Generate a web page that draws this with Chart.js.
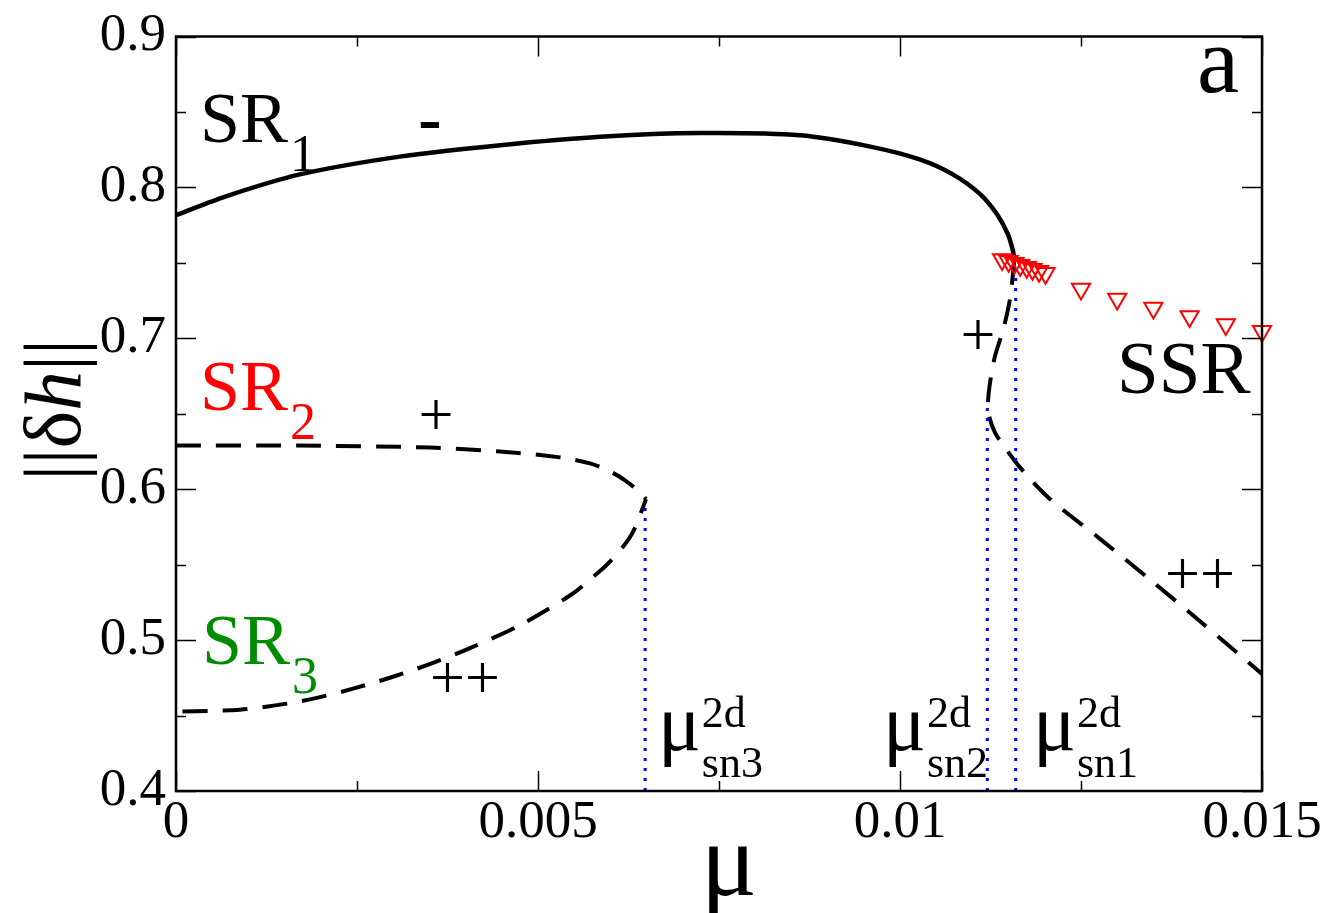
<!DOCTYPE html>
<html>
<head>
<meta charset="utf-8">
<title>Bifurcation diagram</title>
<script src="https://cdn.jsdelivr.net/npm/chart.js@4.4.0/dist/chart.umd.min.js"></script>
<style>
  html, body { margin: 0; padding: 0; background: #fff; }
  canvas { display: block; }
</style>
</head>
<body>
<canvas id="bifChart" width="1341" height="913"></canvas>
<script>
// --- DATA ---
// SR1, stable upper branch (solid)
const muSR1 = [0, 0.00069, 0.00171, 0.00309, 0.00448, 0.00586, 0.00724, 0.00862, 0.00959, 0.01028, 0.01073, 0.01111, 0.01134, 0.01149, 0.01156, 0.01158];
const hSR1  = [0.7816, 0.7941, 0.8086, 0.8204, 0.828, 0.8336, 0.836, 0.8345, 0.827, 0.8184, 0.8086, 0.7954, 0.7822, 0.769, 0.758, 0.752];

// unstable continuation of SR1 past the folds sn1 / sn2 (dashed)
const muSR1u = [0.01158, 0.01152, 0.011423, 0.011312, 0.011243, 0.011215, 0.011229, 0.011312, 0.01145, 0.011657, 0.012044, 0.012762, 0.013453, 0.014144, 0.015];
const hSR1u  = [0.752, 0.7263, 0.7053, 0.6882, 0.6704, 0.6572, 0.6487, 0.6375, 0.6276, 0.6145, 0.5947, 0.5671, 0.5401, 0.5125, 0.4776];

// SR2 (upper dashed, left) up to the fold sn3
const muSR2 = [0, 0.001713, 0.003508, 0.004475, 0.005304, 0.005718, 0.005994, 0.006202, 0.006409, 0.006492];
const hSR2  = [0.6289, 0.6289, 0.6276, 0.625, 0.6211, 0.6171, 0.6118, 0.6059, 0.598, 0.5934];

// SR3 (lower dashed, left) from the fold sn3 back to mu = 0
const muSR3 = [0.006492, 0.006436, 0.006312, 0.006174, 0.005953, 0.005815, 0.005483, 0.004751, 0.004061, 0.00355, 0.002997, 0.002445, 0.001989, 0.001533, 0.000884, 0];
const hSR3  = [0.5934, 0.5862, 0.5717, 0.5618, 0.55, 0.5441, 0.5309, 0.5099, 0.4947, 0.4849, 0.4757, 0.4678, 0.4622, 0.4579, 0.4539, 0.4526];

// SSR (red triangles)
const muSSR = [0.01141, 0.0115, 0.01158, 0.01166, 0.01175, 0.01183, 0.01192, 0.01201, 0.0125, 0.013, 0.0135, 0.014, 0.0145, 0.015];
const hSSR  = [0.7523, 0.751, 0.7497, 0.7484, 0.7471, 0.7458, 0.7444, 0.7431, 0.7326, 0.726, 0.7201, 0.7145, 0.7092, 0.7046];

// saddle-node points (blue dotted markers)
const foldNames = ['sn3', 'sn2', 'sn1'];
const muFold = [0.00648, 0.011206, 0.011598];
const hFold  = [0.5895, 0.659, 0.757];

// axis ranges / ticks
const xRange = [0, 0.015];
const yRange = [0.4, 0.9];
const xMinorStep = 0.0025, xMajorStep = 0.005;
const yMinorStep = 0.05, yMajorStep = 0.1;

const SERIF = '"Liberation Serif", "Times New Roman", serif';

function toPts(xs, ys) {
    return xs.map((x, i) => ({ x: x, y: ys[i] }));
}
function isMajor(v, step) {
    return Math.abs(v / step - Math.round(v / step)) < 1e-6;
}

// text notes placed in data coordinates
const notes = [
    { text: 'SR', sub: '1', x: 0.000331, y: 0.8303, color: '#000000' },
    { text: 'SR', sub: '2', x: 0.000331, y: 0.6526, color: '#ff0000' },
    { text: 'SR', sub: '3', x: 0.000359, y: 0.4842, color: '#008c00' },
    { text: 'SSR', x: 0.012997, y: 0.6638, color: '#000000', size: 75 },
    { text: 'a', x: 0.014102, y: 0.8632, color: '#000000', size: 95 },
    { text: '-', x: 0.003508, y: 0.8299, color: '#000000', size: 70, bold: true, center: true },
    { text: '+', x: 0.003591, y: 0.6359, color: '#000000', size: 62, center: true },
    { text: '++', x: 0.003992, y: 0.4615, color: '#000000', size: 62, center: true },
    { text: '+', x: 0.011077, y: 0.6891, color: '#000000', size: 62, center: true },
    { text: '++', x: 0.014144, y: 0.5306, color: '#000000', size: 62, center: true }
];
const muLabelX = [0.006657, 0.009765, 0.011837];
const muLabelY = 0.427;

// --- PLUGINS ---
const framePlugin = {
    id: 'frame',
    afterDraw(chart) {
        const ctx = chart.ctx;
        const a = chart.chartArea;
        const xs = chart.scales.x, ys = chart.scales.y;
        ctx.save();
        ctx.strokeStyle = '#000';
        ctx.lineWidth = 1.5;
        ctx.beginPath();
        xs.ticks.forEach(t => {
            const px = Math.round(xs.getPixelForValue(t.value)) + 0.5;
            const len = isMajor(t.value, xMajorStep) ? 20 : 10;
            ctx.moveTo(px, a.bottom); ctx.lineTo(px, a.bottom - len);
            ctx.moveTo(px, a.top); ctx.lineTo(px, a.top + len);
        });
        ys.ticks.forEach(t => {
            const py = Math.round(ys.getPixelForValue(t.value)) + 0.5;
            const len = isMajor(t.value, yMajorStep) ? 20 : 10;
            ctx.moveTo(a.left, py); ctx.lineTo(a.left + len, py);
            ctx.moveTo(a.right, py); ctx.lineTo(a.right - len, py);
        });
        ctx.stroke();
        ctx.lineWidth = 2.5;
        ctx.strokeRect(a.left, a.top, a.right - a.left, a.bottom - a.top);
        ctx.restore();
    }
};

function drawParts(ctx, parts, x, y) {
    // parts: [{t, font, dx, dy}] drawn left to right
    let cx = x;
    parts.forEach(p => {
        ctx.font = p.font;
        ctx.fillText(p.t, cx + (p.dx || 0), y + (p.dy || 0));
        cx += ctx.measureText(p.t).width + (p.dx || 0);
    });
}

const notesPlugin = {
    id: 'notes',
    afterDatasetsDraw(chart) {
        const ctx = chart.ctx;
        const xs = chart.scales.x, ys = chart.scales.y;
        const a = chart.chartArea;
        ctx.save();
        ctx.textBaseline = 'alphabetic';
        notes.forEach(n => {
            const px = xs.getPixelForValue(n.x), py = ys.getPixelForValue(n.y);
            ctx.fillStyle = n.color;
            const size = n.size || 72;
            const font = (n.bold ? 'bold ' : '') + size + 'px ' + SERIF;
            if (n.center) {
                ctx.textAlign = 'center';
                ctx.font = font;
                ctx.fillText(n.text, px, py);
            } else {
                ctx.textAlign = 'left';
                const parts = [{ t: n.text, font: font }];
                if (n.sub) parts.push({ t: n.sub, font: '52px ' + SERIF, dx: 2, dy: 29 });
                drawParts(ctx, parts, px, py);
            }
        });

        // mu^2d_sn labels at the folds
        ctx.fillStyle = '#000';
        ctx.textAlign = 'left';
        foldNames.forEach((name, i) => {
            const px = xs.getPixelForValue(muLabelX[i]), py = ys.getPixelForValue(muLabelY);
            ctx.font = '80px ' + SERIF;
            ctx.fillText('\u03bc', px, py);
            const w = ctx.measureText('\u03bc').width;
            ctx.font = '44px ' + SERIF;
            ctx.fillText('2d', px + w + 1, py - 23);
            ctx.fillText(name, px + w + 1, py + 27);
        });

        // x axis title
        ctx.textAlign = 'center';
        ctx.font = '105px ' + SERIF;
        ctx.fillText('\u03bc', (a.left + a.right) / 2 + 10, a.bottom + 104);

        // y axis title ||δh||
        ctx.translate(a.left - 96, (a.top + a.bottom) / 2 - 4);
        ctx.rotate(-Math.PI / 2);
        ctx.textAlign = 'left';
        const yParts = [
            { t: '||', font: '80px ' + SERIF },
            { t: '\u03b4', font: '80px ' + SERIF },
            { t: 'h', font: 'italic 80px ' + SERIF },
            { t: '||', font: '80px ' + SERIF }
        ];
        let total = 0;
        yParts.forEach(p => { ctx.font = p.font; total += ctx.measureText(p.t).width; });
        drawParts(ctx, yParts, -total / 2, 0);
        ctx.restore();
    }
};

// --- CHART ---
const ctx = document.getElementById('bifChart').getContext('2d');
const dashed = [25, 15];
new Chart(ctx, {
    type: 'scatter',
    data: {
        datasets: [
            {
                label: 'SSR',
                data: toPts(muSSR, hSSR),
                showLine: false,
                pointStyle: 'triangle',
                rotation: 180,
                pointRadius: 10.5,
                pointBorderWidth: 2,
                pointBorderColor: '#ff0000',
                pointBackgroundColor: 'rgba(0,0,0,0)',
                clip: false,
                order: 0
            },
            ...muFold.map((m, i) => ({
                label: foldNames[i],
                data: toPts([m, m], [yRange[0], hFold[i]]),
                showLine: true,
                borderColor: '#0000ff',
                borderWidth: 3,
                borderDash: [3, 7],
                pointRadius: 0,
                tension: 0,
                order: 1
            })),
            {
                label: 'SR1',
                data: toPts(muSR1, hSR1),
                showLine: true,
                borderColor: '#000',
                borderWidth: 4.5,
                pointRadius: 0,
                tension: 0.3,
                order: 2
            },
            {
                label: 'SR1 unstable',
                data: toPts(muSR1u, hSR1u),
                showLine: true,
                borderColor: '#000',
                borderWidth: 4,
                borderDash: dashed,
                pointRadius: 0,
                tension: 0.3,
                order: 2
            },
            {
                label: 'SR2',
                data: toPts(muSR2, hSR2),
                showLine: true,
                borderColor: '#000',
                borderWidth: 4,
                borderDash: dashed,
                pointRadius: 0,
                tension: 0.3,
                order: 2
            },
            {
                label: 'SR3',
                data: toPts(muSR3, hSR3),
                showLine: true,
                borderColor: '#000',
                borderWidth: 4,
                borderDash: dashed,
                borderDashOffset: 10,
                pointRadius: 0,
                tension: 0.3,
                order: 2
            }
        ]
    },
    options: {
        responsive: false,
        animation: false,
        layout: { padding: { top: 31, right: 79, left: 0, bottom: 0 } },
        plugins: {
            legend: { display: false },
            tooltip: { enabled: false }
        },
        scales: {
            x: {
                type: 'linear',
                min: xRange[0],
                max: xRange[1],
                afterFit(scale) { scale.height = 122; },
                grid: { display: false, drawTicks: false },
                border: { display: false },
                ticks: {
                    stepSize: xMinorStep,
                    autoSkip: false,
                    maxRotation: 0,
                    padding: 6,
                    color: '#000',
                    font: { family: SERIF, size: 53, lineHeight: 1 },
                    callback: v => isMajor(v, xMajorStep) ? String(Number(v.toFixed(4))) : ''
                }
            },
            y: {
                type: 'linear',
                min: yRange[0],
                max: yRange[1],
                afterFit(scale) { scale.width = 176; },
                grid: { display: false, drawTicks: false },
                border: { display: false },
                ticks: {
                    stepSize: yMinorStep,
                    autoSkip: false,
                    padding: 10,
                    color: '#000',
                    font: { family: SERIF, size: 53, lineHeight: 1 },
                    callback: v => isMajor(v, yMajorStep) ? String(Number(v.toFixed(2))) : ''
                }
            }
        }
    },
    plugins: [framePlugin, notesPlugin]
});
</script>
</body>
</html>
